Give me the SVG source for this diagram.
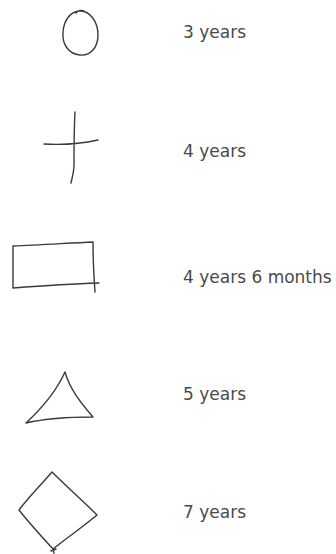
<svg xmlns="http://www.w3.org/2000/svg" width="336" height="554" viewBox="0 0 336 554">
<style>
.s{fill:none;stroke:#3a3a3a;stroke-width:1.4;stroke-linecap:round;stroke-linejoin:round}
.t{font-family:"DejaVu Sans",sans-serif;font-size:17px;fill:#4a4a4a}
</style>
<rect width="336" height="554" fill="#ffffff"/>
<g id="circle-3y">
<path class="s" d="M79,11 C90,10 98,22 98,35 C98,48 90,56 80,55 C69,54 62,45 63,32 C64,19 71,12 79,11 Z M76,13 C78,10 82,10 84,11"/>
<text class="t" x="183" y="38">3 years</text>
</g>
<g id="cross-4y">
<path class="s" d="M44,144 C60,145 80,144 98,140 M75,112 C74,130 74,150 74,165 C74,172 72,178 71,183"/>
<text class="t" x="183" y="157">4 years</text>
</g>
<g id="square-4y6m">
<path class="s" d="M13,246 C40,245 70,243 93,242 C93,260 94,278 95,292 M13,246 C13,262 13,276 13,288 C40,286 70,284 99,283"/>
<text class="t" x="183" y="283">4 years 6 months</text>
</g>
<g id="triangle-5y">
<path class="s" d="M65,372 C56,392 40,410 26,423 C48,418 72,417 93,417 C82,404 70,390 65,372 Z"/>
<text class="t" x="183" y="400">5 years</text>
</g>
<g id="diamond-7y">
<path class="s" d="M52,472 C40,486 28,498 19,510 C30,524 42,537 53,549 C68,537 84,526 97,515 C82,500 66,486 52,472 Z M53,549 L54,553 M51,551 L56,549"/>
<text class="t" x="183" y="518">7 years</text>
</g>
</svg>
